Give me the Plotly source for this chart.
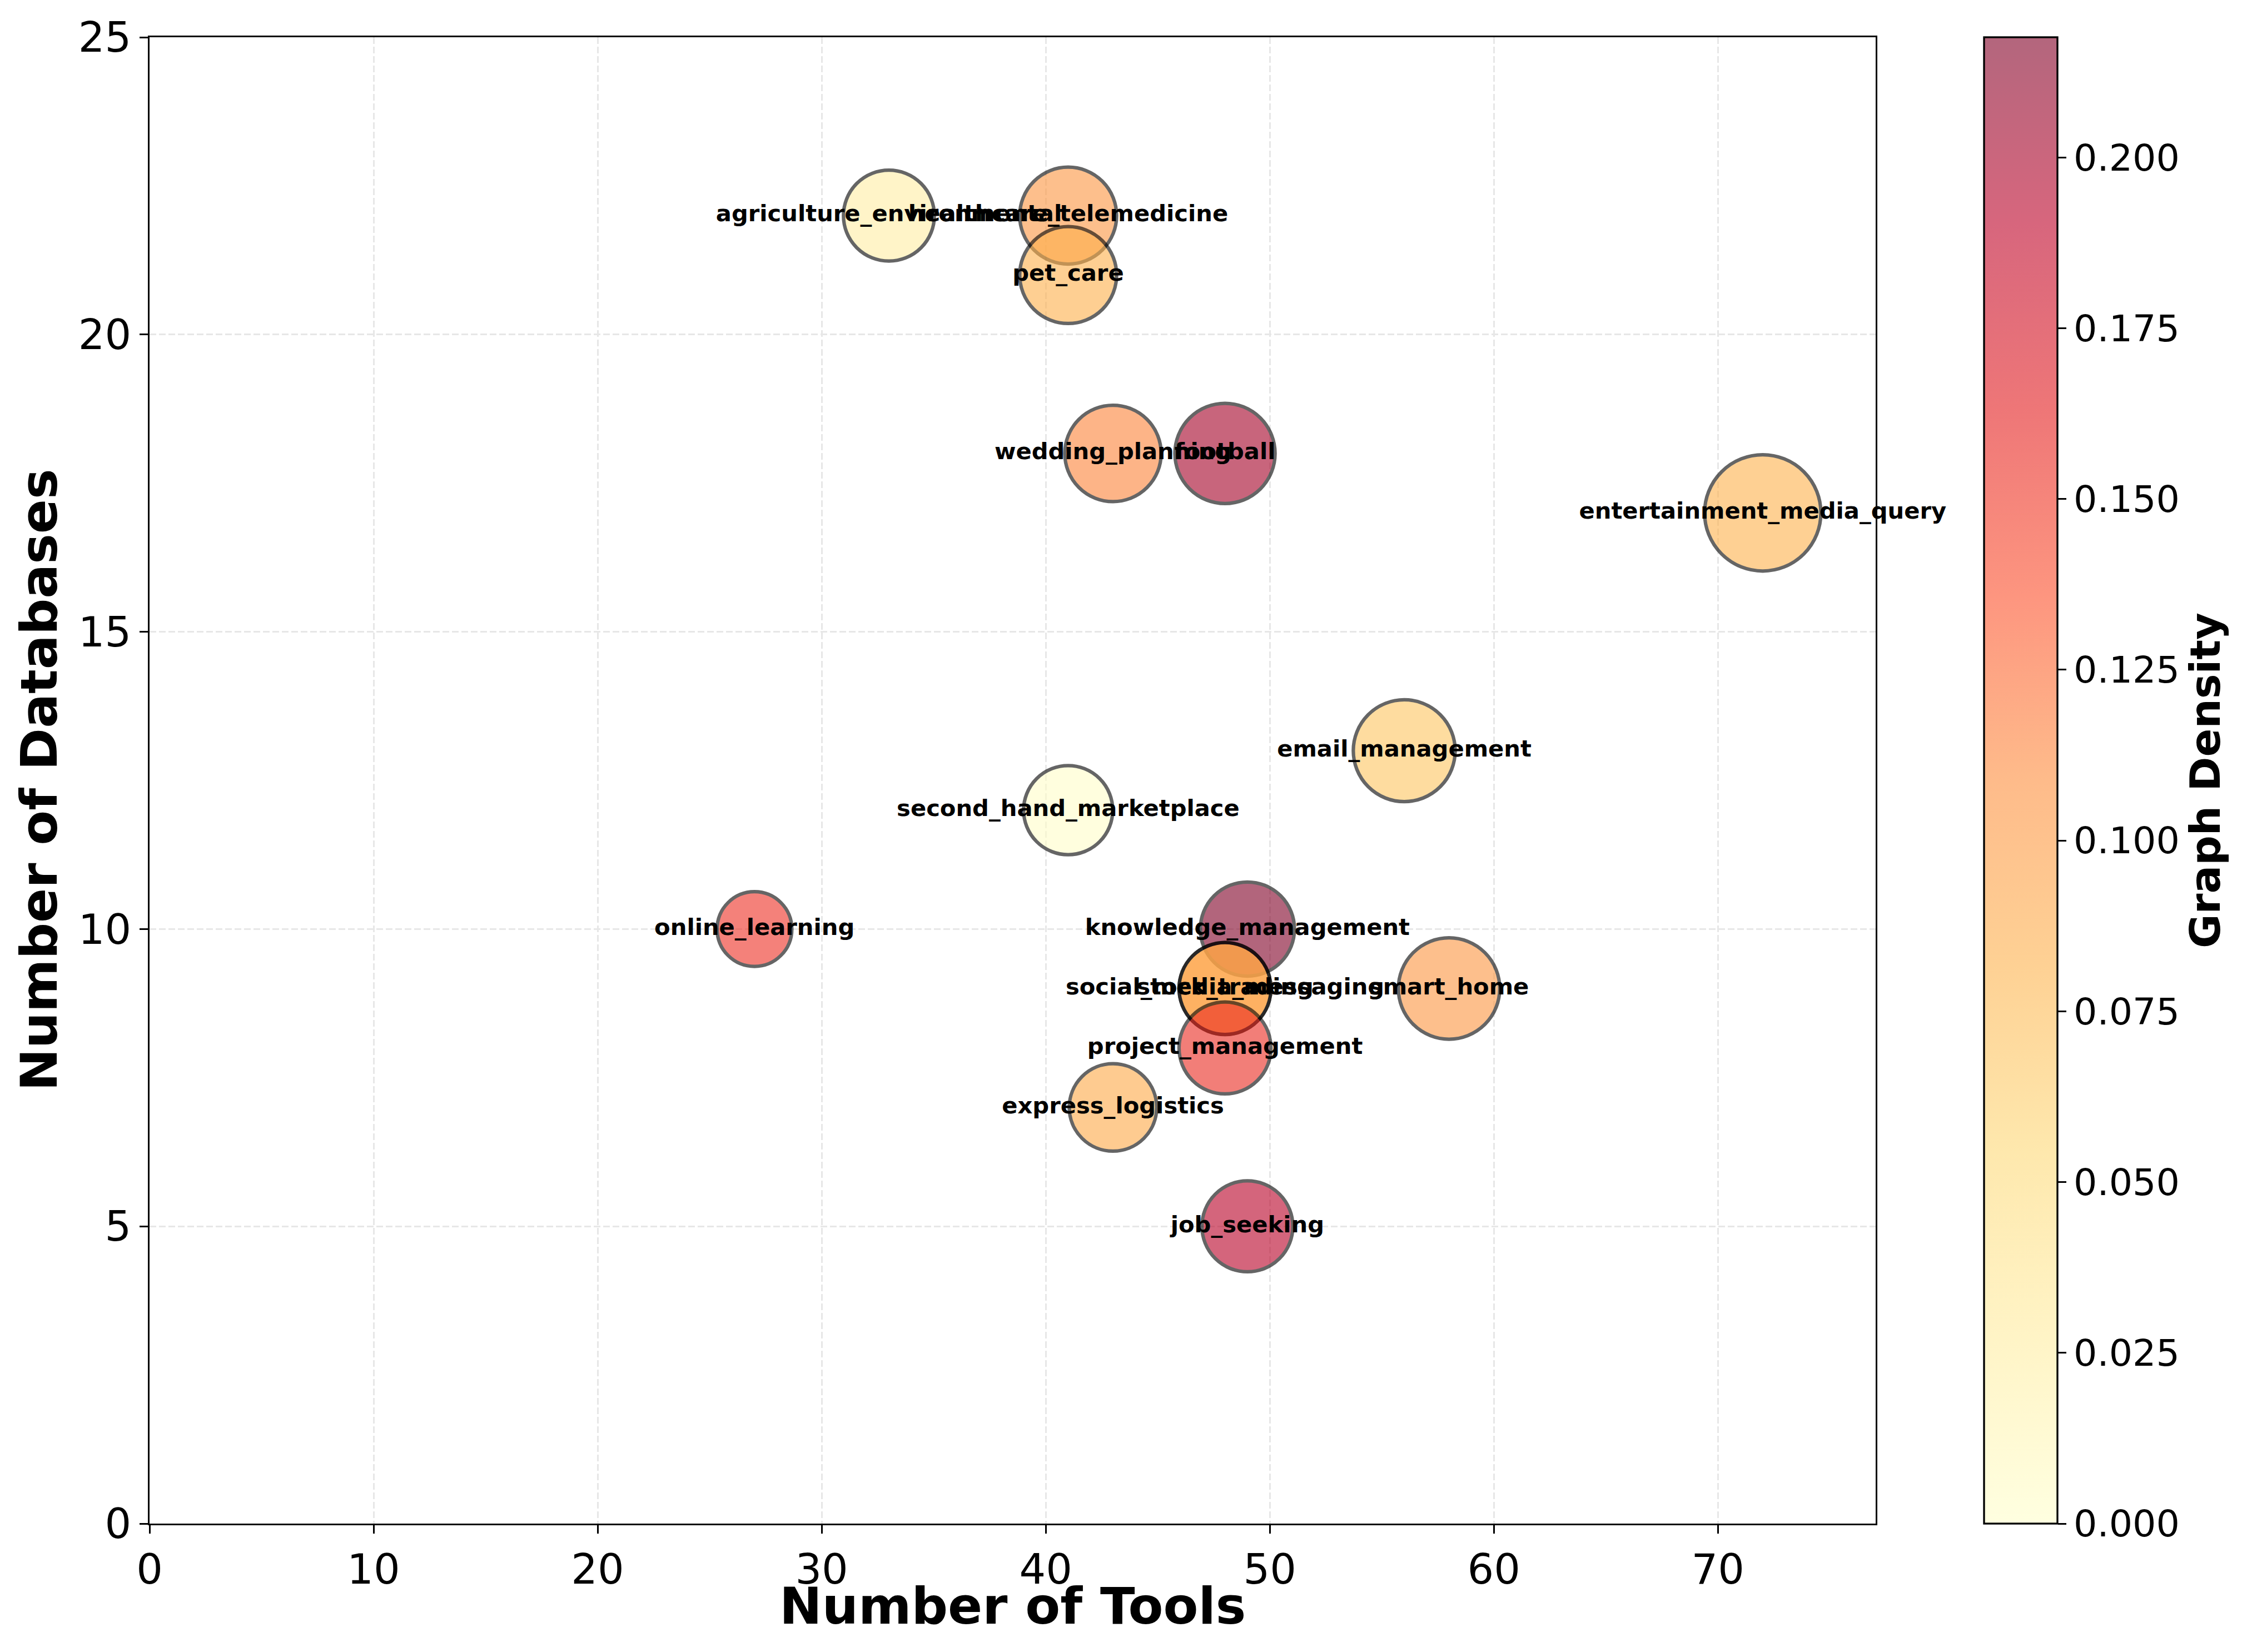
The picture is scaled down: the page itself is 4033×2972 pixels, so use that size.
import plotly.graph_objects as go

# ---------------- data ----------------
domains = ["agriculture_environmental", "healthcare_telemedicine", "pet_care",
           "wedding_planning", "football", "entertainment_media_query",
           "email_management", "second_hand_marketplace", "online_learning",
           "knowledge_management", "social_media_messaging", "stock_trading",
           "smart_home", "project_management", "express_logistics", "job_seeking"]
num_tools = [33, 41, 41, 43, 48, 72, 56, 41, 27, 49, 48, 48, 58, 48, 43, 49]
num_databases = [22, 22, 21, 18, 18, 17, 13, 12, 10, 10, 9, 9, 9, 8, 7, 5]
graph_density = [0.025, 0.102, 0.083, 0.113, 0.201, 0.082, 0.068, 0.002,
                 0.152, 0.2176, 0.088, 0.094, 0.102, 0.155, 0.088, 0.192]
# bubble area values (matplotlib-style "s", points^2)
bubble_area = [1540, 1750, 1750, 1730, 1870, 2520, 1935, 1480,
               1040, 1650, 1575, 1575, 1915, 1575, 1425, 1540]

x_ticks = [0, 10, 20, 30, 40, 50, 60, 70]
y_ticks = [0, 5, 10, 15, 20, 25]
cbar_ticks = [0.0, 0.025, 0.05, 0.075, 0.1, 0.125, 0.15, 0.175, 0.2]
x_title = "Number of Tools"
y_title = "Number of Databases"
cbar_title = "Graph Density"

# ---------------- styling ----------------
PT = 300 / 72.0          # px per point at 300 dpi
FONT = "DejaVu Sans"
ALPHA = 0.6
W, H = 4033, 2972
L, R, T, B = 261, 3366, 59, 2733
PW, PH = R - L, B - T

ylorrd = [(255, 255, 204), (255, 237, 160), (254, 217, 118), (254, 178, 76),
          (253, 141, 60), (252, 78, 42), (227, 26, 28), (189, 0, 38), (128, 0, 38)]
n = len(ylorrd)
cs_marker = [[i / (n - 1), "rgb(%d,%d,%d)" % c] for i, c in enumerate(ylorrd)]
cs_bar = [[i / (n - 1), "rgb(%d,%d,%d)" % tuple(round(ALPHA * v + (1 - ALPHA) * 255) for v in c)]
          for i, c in enumerate(ylorrd)]

cmax = max(graph_density)
diam = [(a ** 0.5) * PT for a in bubble_area]

fig = go.Figure()
fig.add_trace(go.Scatter(
    x=num_tools, y=num_databases, mode="markers+text",
    text=domains, textposition="middle center",
    textfont=dict(family=FONT, size=10 * PT, color="black", weight="bold"),
    marker=dict(size=diam, sizemode="diameter", color=graph_density,
                colorscale=cs_marker, cmin=0, cmax=cmax, opacity=ALPHA,
                line=dict(color="black", width=1.5 * PT), showscale=False),
    cliponaxis=False, showlegend=False, hoverinfo="skip",
))
# colorbar (blended colours as drawn with alpha on white)
fig.add_trace(go.Scatter(
    x=[None], y=[None], mode="markers", showlegend=False, hoverinfo="skip",
    marker=dict(color=[0], colorscale=cs_bar, cmin=0, cmax=cmax, showscale=True,
                colorbar=dict(
                    x=(3561 - L) / PW, xanchor="left", xpad=0, ypad=0,
                    y=0.5, yanchor="middle", len=1, lenmode="fraction",
                    thickness=132, thicknessmode="pixels",
                    outlinewidth=0.8 * PT, outlinecolor="black",
                    ticks="outside", ticklen=3.5 * PT, tickwidth=0.8 * PT, tickcolor="black",
                    tickvals=cbar_ticks, ticktext=["%.3f" % v for v in cbar_ticks],
                    tickfont=dict(family=FONT, size=16 * PT, color="black"),
                    title=dict(text=cbar_title, side="right",
                               font=dict(family=FONT, size=18 * PT, color="black", weight="bold")),
                )),
))

axis_common = dict(
    showline=True, linecolor="black", linewidth=0.8 * PT, mirror=True,
    ticks="outside", ticklen=3.5 * PT, tickwidth=0.8 * PT, tickcolor="black",
    tickfont=dict(family=FONT, size=18 * PT, color="black"),
    showgrid=True, gridcolor="rgb(231,231,231)", gridwidth=0.8 * PT, griddash="12px,5px",
    zeroline=False,
)
fig.update_xaxes(range=[0, max(num_tools) * 1.07], tickvals=x_ticks, **axis_common)
fig.update_yaxes(range=[0, 25], tickvals=y_ticks, **axis_common)

title_font = dict(family=FONT, size=22 * PT, color="black", weight="bold")
fig.add_annotation(text=x_title, xref="paper", yref="paper", x=0.5,
                   y=-(2882 - B) / PH, xanchor="center", yanchor="middle",
                   showarrow=False, font=title_font)
fig.add_annotation(text=y_title, xref="paper", yref="paper", y=0.5,
                   x=-(L - 62) / PW, xanchor="center", yanchor="middle",
                   textangle=-90, showarrow=False, font=title_font)

fig.update_layout(
    width=W, height=H, autosize=False,
    margin=dict(l=L, r=W - R, t=T, b=H - B, pad=0),
    paper_bgcolor="white", plot_bgcolor="white",
    font=dict(family=FONT, color="black"),
)
fig.write_html("out.html")
